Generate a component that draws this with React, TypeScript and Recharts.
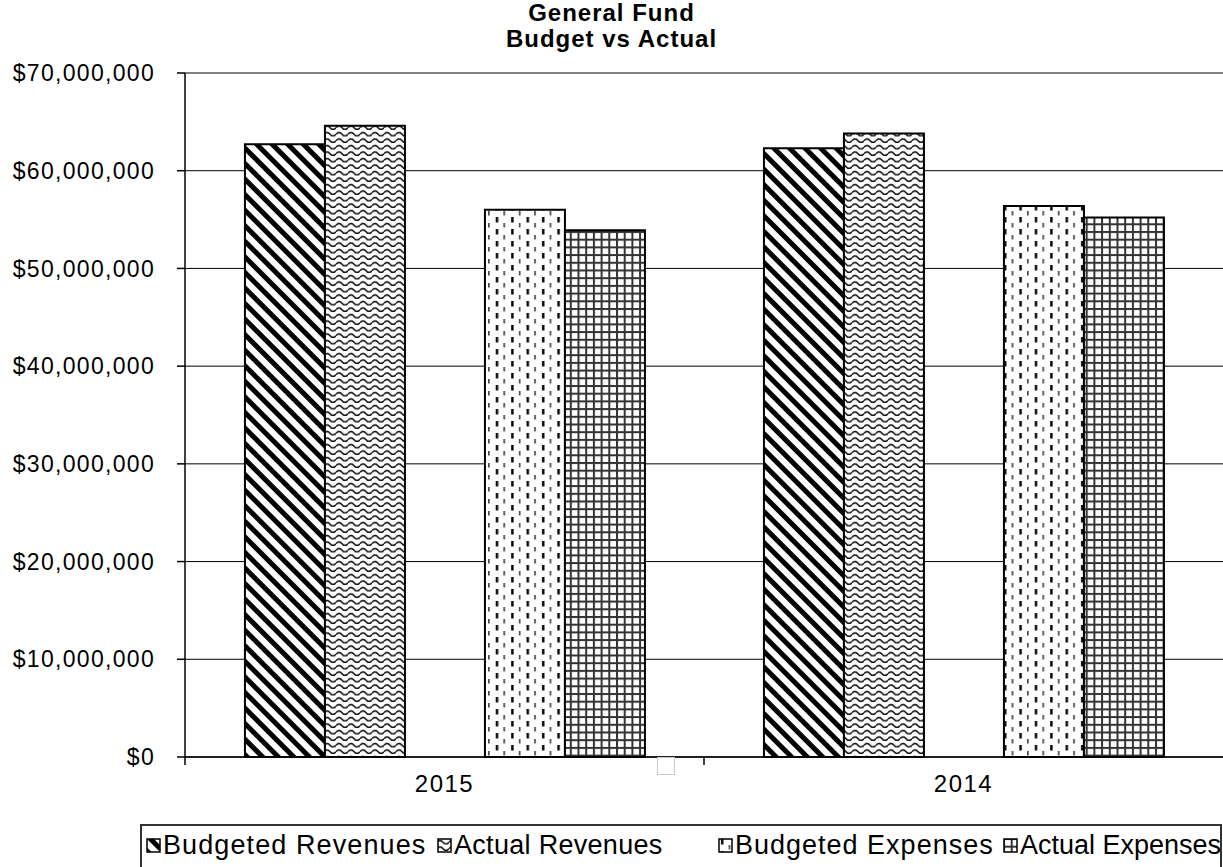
import React from 'react';
import { BarChart, Bar, XAxis, YAxis, CartesianGrid } from 'recharts';

// values (dollars)
const years = ['2015', '2014'];
const budgetedRevenues = [62700000, 62300000];
const actualRevenues = [64600000, 63800000];
const budgetedExpenses = [56000000, 56400000];
const actualExpenses = [53900000, 55200000];
const yTicks = [0, 10000000, 20000000, 30000000, 40000000, 50000000, 60000000, 70000000];

const seriesNames = ['Budgeted Revenues', 'Actual Revenues', 'Budgeted Expenses', 'Actual Expenses'];
const seriesKeys = ['br', 'ar', 'be', 'ae'];
const seriesFills = ['url(#patDiag)', 'url(#patWave)', 'url(#patDash)', 'url(#patGrid)'];

const data = years.map((year, i) => ({
  year,
  br: budgetedRevenues[i],
  ar: actualRevenues[i],
  blank: null, // empty series in the source workbook, leaves the gap
  be: budgetedExpenses[i],
  ae: actualExpenses[i],
}));

const FONT = '"Liberation Sans", Arial, sans-serif';
const CHART_W = 1223;
const CHART_H = 867;
const Y_AXIS_W = 185;
const BAND = (CHART_W - Y_AXIS_W) / years.length;

// legend layout only: entry x positions and per-entry letter spacing
const legendLeft = [146, 437, 718, 1003];
const legendSpacing = [1.1, 0.3, 1.0, 0];

const fmtMoney = (v: number) => '$' + v.toLocaleString('en-US');

const CategoryTick = (props: any) => {
  const { x, y, payload } = props;
  const edge = x - BAND / 2;
  return (
    <g>
      <line x1={edge} y1={y} x2={edge} y2={y + 8} stroke="#000" strokeWidth={1.5} />
      <text x={x} y={y + 26} textAnchor="middle" dominantBaseline="central" fill="#000" fontSize={24} letterSpacing={1.5} fontFamily={FONT}>
        {payload.value}
      </text>
    </g>
  );
};

const PatternDefs = () => (
  <defs>
    <pattern id="patDiag" patternUnits="userSpaceOnUse" width={11} height={11} patternTransform="rotate(-45)">
      <rect x={0} y={0} width={11} height={11} fill="#fff" />
      <rect x={0} y={0} width={5} height={11} fill="#000" />
    </pattern>
    <pattern id="patWave" patternUnits="userSpaceOnUse" width={12} height={6.5}>
      <rect x={0} y={0} width={12} height={6.5} fill="#fff" />
      <path d="M0 4.2 Q3 0.6 6 4.2 T12 4.2" fill="none" stroke="#111" strokeWidth={1.6} />
    </pattern>
    <pattern id="patDash" patternUnits="userSpaceOnUse" width={15.4} height={12}>
      <rect x={0} y={0} width={15.4} height={12} fill="#fff" />
      <rect x={3} y={1} width={2.4} height={5.5} fill="#000" />
      <rect x={10.7} y={7} width={1.5} height={4.5} fill="#333" />
    </pattern>
    <pattern id="patGrid" patternUnits="userSpaceOnUse" width={7.7} height={7.7}>
      <rect x={0} y={0} width={7.7} height={7.7} fill="#fff" />
      <rect x={0} y={0} width={2} height={7.7} fill="#333" />
      <rect x={0} y={0} width={7.7} height={2} fill="#333" />
    </pattern>
  </defs>
);

export default function App() {
  return (
    <div style={{ position: 'absolute', left: 0, top: 0, width: CHART_W, height: CHART_H, overflow: 'hidden', background: '#fff', fontFamily: FONT }}>
      <div style={{ position: 'absolute', left: 0, top: 0, width: CHART_W, textAlign: 'center', fontWeight: 'bold', fontSize: 24, lineHeight: '26px', letterSpacing: 1, color: '#000' }}>
        <div>General Fund</div>
        <div>Budget vs Actual</div>
      </div>

      <BarChart
        width={CHART_W}
        height={CHART_H}
        data={data}
        margin={{ top: 73, right: 0, left: 0, bottom: 60 }}
        barCategoryGap="11.55%"
        barGap={0}
      >
        <PatternDefs />
        <CartesianGrid vertical={false} stroke="#000" strokeWidth={1} />
        <XAxis
          dataKey="year"
          height={50}
          stroke="#000"
          strokeWidth={1.5}
          tickLine={false}
          tickSize={0}
          tickMargin={0}
          tick={<CategoryTick />}
        />
        <YAxis
          width={Y_AXIS_W}
          domain={[0, 70000000]}
          ticks={yTicks}
          stroke="#000"
          strokeWidth={1.5}
          tickSize={8}
          tickMargin={22}
          tickFormatter={fmtMoney}
          tick={{ fill: '#000', fontSize: 23, fontFamily: FONT, letterSpacing: 1.3 }}
        />
        <Bar dataKey="br" fill={seriesFills[0]} stroke="#000" strokeWidth={2} isAnimationActive={false} />
        <Bar dataKey="ar" fill={seriesFills[1]} stroke="#000" strokeWidth={2} isAnimationActive={false} />
        <Bar dataKey="blank" fill="none" isAnimationActive={false} />
        <Bar dataKey="be" fill={seriesFills[2]} stroke="#000" strokeWidth={2} isAnimationActive={false} />
        <Bar dataKey="ae" fill={seriesFills[3]} stroke="#000" strokeWidth={2} isAnimationActive={false} />
      </BarChart>

      {/* stray empty marker under the axis, as in the source */}
      <div style={{ position: 'absolute', left: 657, top: 757, width: 18, height: 18, border: '1px solid #c8c8c8', boxSizing: 'border-box' }} />

      <div style={{ position: 'absolute', left: 140, top: 824, width: 1082, height: 60, border: '2px solid #333', boxSizing: 'border-box' }}>
        {seriesNames.map((name, i) => (
          <div key={seriesKeys[i]} style={{ position: 'absolute', left: legendLeft[i] - 142, top: 3, display: 'flex', alignItems: 'center', whiteSpace: 'nowrap' }}>
            <svg width={15} height={15} style={{ marginRight: 2 }}>
              <rect x={1} y={1} width={13} height={13} fill={seriesFills[i]} stroke="#000" strokeWidth={1.5} />
            </svg>
            <span style={{ fontSize: 27, lineHeight: '32px', letterSpacing: legendSpacing[i], color: '#000' }}>{name}</span>
          </div>
        ))}
      </div>
    </div>
  );
}
